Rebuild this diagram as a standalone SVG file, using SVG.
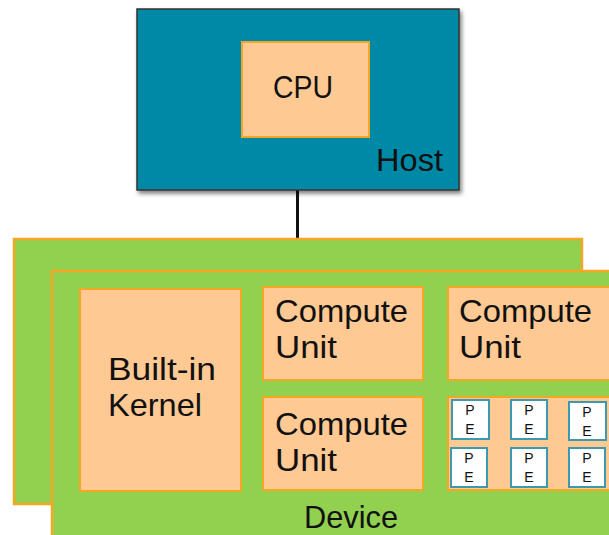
<svg xmlns="http://www.w3.org/2000/svg" width="609" height="535" viewBox="0 0 609 535">
<defs>
<filter id="sh" x="-5%" y="-5%" width="115%" height="115%">
<feGaussianBlur in="SourceAlpha" stdDeviation="2"/>
<feOffset dx="2" dy="3"/>
<feComponentTransfer><feFuncA type="linear" slope="0.5"/></feComponentTransfer>
<feMerge><feMergeNode/><feMergeNode in="SourceGraphic"/></feMerge>
</filter>
</defs>
<style>
.dev{fill:#92D050;stroke:#F5A623;stroke-width:2.5}
.pe{fill:#FFC993;stroke:#F5A623;stroke-width:2}
.peb{fill:#FFFFFF;stroke:#3B9AAF;stroke-width:2}
text{font-family:"Liberation Sans",Arial,sans-serif;fill:#111}
.lbl{font-size:32px}
.pt{font-size:14px;text-anchor:middle}
</style>
<g id="connectors">
<line x1="297.5" y1="190" x2="297.5" y2="271" stroke="#111" stroke-width="3"/>
</g>
<g id="host">
<rect x="137" y="9" width="322" height="181" fill="#0089A7" stroke="#333" stroke-width="1.5" filter="url(#sh)"/>
<text class="lbl" x="376" y="171" font-size="29" textLength="67" lengthAdjust="spacingAndGlyphs">Host</text>
</g>
<g id="cpu">
<rect class="pe" x="242" y="42" width="127" height="95" stroke-width="1.5"/>
<text class="lbl" x="273" y="98" textLength="60" lengthAdjust="spacingAndGlyphs">CPU</text>
</g>
<g id="device-back">
<rect class="dev" x="14" y="239" width="568" height="265"/>
</g>
<g id="device">
<rect class="dev" x="52" y="271" width="570" height="280"/>
<text class="lbl" x="304" y="528" font-size="28" textLength="94" lengthAdjust="spacingAndGlyphs">Device</text>
</g>
<g id="builtin-kernel">
<rect class="pe" x="80" y="289" width="161" height="202"/>
<text class="lbl" x="108" y="380" font-size="30" textLength="108" lengthAdjust="spacingAndGlyphs">Built-in</text>
<text class="lbl" x="108" y="416" font-size="30" textLength="94" lengthAdjust="spacingAndGlyphs">Kernel</text>
</g>
<g id="cu1">
<rect class="pe" x="263" y="287" width="160" height="93"/>
<text class="lbl" x="275" y="322" textLength="133" lengthAdjust="spacingAndGlyphs">Compute</text>
<text class="lbl" x="275" y="358" textLength="62" lengthAdjust="spacingAndGlyphs">Unit</text>
</g>
<g id="cu2">
<rect class="pe" x="448" y="287" width="170" height="93"/>
<text class="lbl" x="459" y="322" textLength="133" lengthAdjust="spacingAndGlyphs">Compute</text>
<text class="lbl" x="459" y="358" textLength="62" lengthAdjust="spacingAndGlyphs">Unit</text>
</g>
<g id="cu3">
<rect class="pe" x="263" y="397" width="160" height="93"/>
<text class="lbl" x="275" y="435" textLength="133" lengthAdjust="spacingAndGlyphs">Compute</text>
<text class="lbl" x="275" y="471" textLength="62" lengthAdjust="spacingAndGlyphs">Unit</text>
</g>
<g id="cu4">
<rect class="pe" x="448" y="397" width="170" height="93"/>
<g id="pe1"><rect class="peb" x="452" y="400" width="37" height="39"/><text class="pt" x="470" y="415">P</text><text class="pt" x="470" y="434">E</text></g>
<g id="pe2"><rect class="peb" x="511" y="400" width="36" height="39"/><text class="pt" x="529" y="415">P</text><text class="pt" x="529" y="434">E</text></g>
<g id="pe3"><rect class="peb" x="569" y="402" width="37" height="38"/><text class="pt" x="587" y="417">P</text><text class="pt" x="587" y="436">E</text></g>
<g id="pe4"><rect class="peb" x="451" y="448" width="36" height="39"/><text class="pt" x="469" y="463">P</text><text class="pt" x="469" y="482">E</text></g>
<g id="pe5"><rect class="peb" x="511" y="448" width="36" height="39"/><text class="pt" x="529" y="463">P</text><text class="pt" x="529" y="482">E</text></g>
<g id="pe6"><rect class="peb" x="569" y="448" width="36" height="39"/><text class="pt" x="587" y="463">P</text><text class="pt" x="587" y="482">E</text></g>
</g>
</svg>
